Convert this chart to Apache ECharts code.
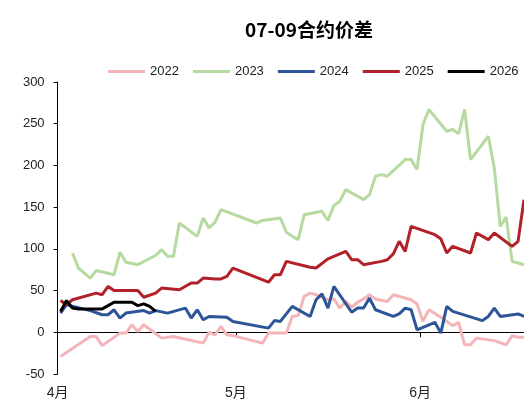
<!DOCTYPE html>
<html>
<head>
<meta charset="utf-8">
<script src="https://cdn.jsdelivr.net/npm/echarts@6/dist/echarts.min.js"></script>
<style>
  html, body { margin: 0; padding: 0; background: #fff; }
  #chart { width: 524px; height: 405px; }
</style>
</head>
<body>
<div id="chart"></div>
<script>
// x = calendar day counted from 4/1 (0 = 4月1日)
const monthTicks = [-0.5, 29.5, 60.5]
const monthLabels = ['4月', '5月', '6月']

const days2022 = [0, 5, 6, 7, 10, 11, 12, 13, 14, 17, 19, 24, 25, 26, 27, 28, 29, 34, 35, 38, 39, 40, 41, 42, 43, 45, 46, 47, 48, 49, 50, 51, 52, 53, 55, 56, 59, 60, 61, 62, 64, 66, 67, 68, 69, 70, 73, 75, 76, 77, 78]
const vals2022 = [-29, -5, -5, -16, -1, -1, 9, 1, 9, -7, -5, -13, 0, -3, 7, -3, -4, -13, -1, -1, 19, 20, 43, 47, 45, 39, 40, 29, 37, 30, 36, 40, 45, 40, 37, 45, 39, 34, 13, 27, 18, 8, 12, -15, -15, -7, -10, -15, -4, -6, -6]

const days2023 = [2, 3, 5, 6, 9, 10, 11, 13, 16, 17, 18, 19, 20, 23, 24, 25, 26, 27, 33, 34, 37, 38, 39, 40, 41, 44, 45, 46, 47, 48, 51, 52, 53, 54, 55, 58, 59, 60, 61, 62, 65, 66, 67, 68, 69, 72, 73, 74, 75, 76, 77, 78]
const vals2023 = [95, 77, 65, 74, 69, 96, 84, 81, 92, 99, 91, 91, 131, 115, 137, 125, 132, 147, 131, 134, 137, 120, 115, 111, 141, 145, 134, 152, 157, 171, 159, 165, 187, 189, 187, 207, 207, 195, 249, 267, 241, 243, 238, 267, 207, 235, 197, 127, 138, 85, 83, 81]

const days2024 = [0, 1, 5, 7, 8, 9, 10, 11, 14, 15, 16, 18, 21, 22, 23, 24, 25, 28, 29, 35, 36, 37, 39, 42, 43, 44, 45, 46, 49, 50, 51, 52, 53, 56, 57, 58, 59, 60, 63, 64, 65, 66, 71, 72, 73, 74, 77, 78]
const vals2024 = [23, 33, 26, 21, 21, 27, 17, 23, 26, 23, 26, 23, 29, 17, 27, 15, 19, 18, 13, 5, 14, 13, 31, 19, 39, 46, 29, 55, 24, 29, 29, 41, 27, 19, 22, 29, 27, 3, 12, -1, 31, 25, 14, 19, 29, 19, 22, 19]

const days2025 = [0, 1, 2, 6, 7, 8, 9, 13, 14, 16, 17, 20, 22, 23, 24, 26, 27, 28, 29, 35, 36, 37, 38, 42, 43, 45, 48, 49, 50, 51, 54, 55, 56, 57, 58, 59, 63, 64, 65, 66, 69, 70, 72, 73, 76, 77, 78]
const vals2025 = [38, 33, 39, 47, 45, 55, 50, 50, 42, 47, 53, 51, 59, 59, 65, 64, 64, 67, 77, 60, 69, 69, 85, 78, 77, 88, 97, 87, 87, 81, 85, 87, 94, 109, 97, 127, 117, 112, 95, 103, 95, 119, 111, 119, 103, 109, 159]

const days2026 = [0, 1, 2, 3, 7, 8, 9, 12, 13, 14, 15, 16]
const vals2026 = [25, 38, 29, 28, 28, 32, 36, 36, 32, 34, 31, 25]

const yearNames = ['2022', '2023', '2024', '2025', '2026']
const yearColors = ['#F4B5B9', '#B6DA9F', '#2E5597', '#B2202A', '#000000']

const zip = (xs, ys) => xs.map((x, i) => [x, ys[i]])
const seriesData = [
  zip(days2022, vals2022),
  zip(days2023, vals2023),
  zip(days2024, vals2024),
  zip(days2025, vals2025),
  zip(days2026, vals2026)
]

const font = "'Liberation Sans', 'Noto Sans CJK SC', sans-serif"
const X_MIN = -0.5
const X_MAX = 78

const chart = echarts.init(document.getElementById('chart'))
chart.setOption({
  animation: false,
  backgroundColor: '#fff',
  title: {
    text: '07-09合约价差',
    left: 304,
    top: 15,
    textAlign: 'center',
    textStyle: { fontFamily: "'Noto Sans CJK SC', sans-serif", fontSize: 19, fontWeight: 'bold', color: '#000' }
  },
  legend: {
    left: 108,
    top: 65,
    width: 460,
    padding: 0,
    icon: 'rect',
    itemWidth: 37,
    itemHeight: 3,
    itemGap: 14,
    textStyle: { fontFamily: font, fontSize: 13, color: '#222' },
    data: yearNames
  },
  grid: { left: 57.6, right: 0, top: 82, bottom: 31, containLabel: false, outerBoundsMode: 'none' },
  xAxis: [
    {
      type: 'value',
      min: X_MIN,
      max: X_MAX,
      position: 'bottom',
      axisLine: { onZero: true, lineStyle: { color: '#000', width: 1 } },
      axisTick: { show: true, length: 5, customValues: [29.5, 60.5], lineStyle: { color: '#000' } },
      axisLabel: { show: false },
      splitLine: { show: false }
    },
    {
      type: 'value',
      min: X_MIN,
      max: X_MAX,
      position: 'bottom',
      axisLine: { show: false, onZero: false },
      axisTick: { show: false },
      splitLine: { show: false },
      axisLabel: {
        customValues: monthTicks,
        showMinLabel: true,
        margin: 12,
        fontFamily: font,
        fontSize: 14,
        color: '#222',
        formatter: v => monthLabels[monthTicks.indexOf(v)] || ''
      }
    }
  ],
  yAxis: {
    type: 'value',
    min: -50,
    max: 300,
    interval: 50,
    axisLine: { show: true, onZero: false, lineStyle: { color: '#000', width: 1 } },
    axisTick: { show: true, length: 4, lineStyle: { color: '#000' } },
    axisLabel: { margin: 13, fontFamily: font, fontSize: 13, color: '#222' },
    splitLine: { show: false }
  },
  series: yearNames.map((name, i) => ({
    name: name,
    type: 'line',
    xAxisIndex: 0,
    data: seriesData[i],
    showSymbol: false,
    symbol: 'none',
    color: yearColors[i],
    lineStyle: { width: 3, color: yearColors[i] }
  }))
})
</script>
</body>
</html>
